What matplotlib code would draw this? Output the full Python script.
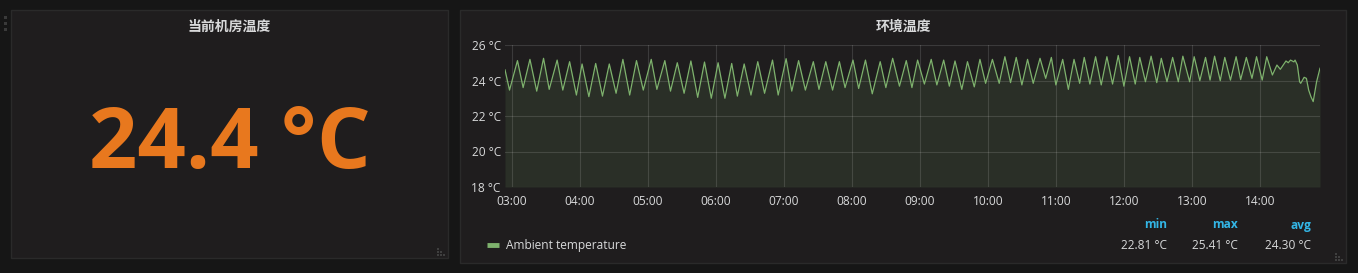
import matplotlib
matplotlib.use("Agg")
import matplotlib.pyplot as plt
import matplotlib.dates as mdates
from matplotlib.patches import Rectangle
from matplotlib.lines import Line2D
import pandas as pd

plt.rcParams['font.family'] = ['Open Sans', 'Noto Sans CJK SC', 'DejaVu Sans']

# stat panel
stat_title = "当前机房温度"
stat_value = 24.4
unit = "°C"

# graph panel
graph_title = "环境温度"
series_name = "Ambient temperature"
times = [
    "02:54", "02:58", "03:05", "03:10", "03:16", "03:22", "03:28", "03:33", "03:40", "03:45",
    "03:51", "03:57", "04:02", "04:08", "04:14", "04:20", "04:26", "04:32", "04:38", "04:44",
    "04:50", "04:56", "05:03", "05:08", "05:15", "05:20", "05:26", "05:32", "05:38", "05:44",
    "05:50", "05:56", "06:02", "06:08", "06:14", "06:19", "06:25", "06:31", "06:37", "06:43",
    "06:50", "06:55", "07:02", "07:07", "07:13", "07:19", "07:26", "07:31", "07:37", "07:43",
    "07:49", "07:54", "08:01", "08:06", "08:12", "08:18", "08:25", "08:30", "08:36", "08:42",
    "08:48", "08:53", "08:58", "09:04", "09:10", "09:15", "09:21", "09:26", "09:31", "09:37",
    "09:42", "09:48", "09:53", "09:58", "10:04", "10:10", "10:15", "10:20", "10:25", "10:30",
    "10:35", "10:40", "10:46", "10:51", "10:56", "11:00", "11:06", "11:11", "11:16", "11:21",
    "11:25", "11:30", "11:35", "11:40", "11:45", "11:50", "11:55", "12:00", "12:05", "12:10",
    "12:14", "12:19", "12:24", "12:29", "12:33", "12:38", "12:43", "12:48", "12:52", "12:58",
    "13:02", "13:07", "13:12", "13:16", "13:20", "13:25", "13:29", "13:34", "13:39", "13:43",
    "13:48", "13:53", "13:57", "14:02", "14:06", "14:11", "14:15", "14:18", "14:23", "14:25",
    "14:27", "14:30", "14:31", "14:33", "14:35", "14:36", "14:39", "14:41", "14:43", "14:45",
    "14:47", "14:50", "14:53",
]
temps = [
    24.60, 23.46, 25.12, 23.60, 25.19, 23.40, 25.25, 23.50, 25.15, 23.46,
    25.06, 23.18, 24.93, 23.09, 24.96, 23.12, 24.93, 23.28, 25.19, 23.18,
    25.12, 23.46, 25.19, 23.50, 25.12, 23.40, 25.00, 23.28, 25.10, 23.05,
    25.04, 23.00, 25.00, 23.00, 24.96, 23.12, 24.93, 23.18, 25.06, 23.28,
    25.15, 23.18, 25.23, 23.40, 25.12, 23.46, 25.06, 23.50, 25.06, 23.46,
    25.06, 23.60, 25.15, 23.55, 25.15, 23.25, 25.06, 23.60, 25.25, 23.68,
    25.12, 23.60, 25.15, 23.80, 25.19, 23.75, 25.15, 23.68, 25.10, 23.50,
    25.06, 23.64, 25.19, 23.84, 25.19, 23.84, 25.34, 23.88, 25.30, 23.75,
    25.19, 23.84, 25.25, 24.12, 25.30, 23.75, 25.19, 23.50, 25.19, 23.84,
    25.30, 23.80, 25.34, 23.75, 25.34, 23.80, 25.41, 23.68, 25.34, 23.80,
    25.30, 23.93, 25.37, 23.88, 25.25, 23.93, 25.30, 23.93, 25.37, 23.93,
    25.34, 23.99, 25.30, 24.02, 25.37, 23.99, 25.30, 24.02, 25.34, 24.05,
    25.30, 24.12, 25.34, 24.02, 25.34, 24.31, 24.87, 24.63, 25.10, 25.00,
    25.15, 25.05, 25.15, 24.87, 23.93, 23.84, 24.18, 24.12, 23.46, 23.09,
    22.81, 23.93, 24.69,
]
y_ticks = [18, 20, 22, 24, 26]
x_range = ["02:54", "14:53"]
stat_names = ["min", "max", "avg"]
stat_values = [22.81, 25.41, 24.30]

W, H = 1358, 273
PAGE = "#161616"
PANEL = "#1f1d1e"
BORDER = "#2a2a2a"
TEXT = "#d8d9da"
GREEN = "#7eb26d"

fig = plt.figure(figsize=(W / 100, H / 100), dpi=100, facecolor=PAGE)

# background layer in pixel coords
bg = fig.add_axes([0, 0, 1, 1])
bg.set_xlim(0, W)
bg.set_ylim(H, 0)
bg.axis("off")
bg.add_patch(Rectangle((11, 10), 437, 248, facecolor=PANEL, edgecolor=BORDER, lw=1))
bg.add_patch(Rectangle((460, 10), 886, 253, facecolor=PANEL, edgecolor=BORDER, lw=1))

# drag handle and resize grips
for yy in (16, 22, 28):
    bg.add_patch(Rectangle((4, yy), 3, 3, facecolor="#3a3a3a", lw=0))
for cx, cy in ((445, 256), (1343, 261)):
    for i in range(3):
        for j in range(3 - i):
            bg.add_patch(Rectangle((cx - 3 * (i + j) - 2, cy - 3 * i - 2), 2, 2,
                                   facecolor="#3f3f3f", lw=0))

# stat panel
bg.text(229.5, 27, stat_title, ha="center", va="center", color=TEXT,
        fontsize=10, fontweight="bold", family=["Noto Sans CJK SC"])
bg.text(230, 146, f"{stat_value:.1f} {unit}", ha="center", va="center",
        color="#e8781e", fontsize=61, fontweight="bold")

# graph panel
bg.text(903, 27, graph_title, ha="center", va="center", color=TEXT,
        fontsize=10, fontweight="bold", family=["Noto Sans CJK SC"])

t = pd.to_datetime(["2024-01-01 " + s for s in times])
ax = fig.add_axes([505 / W, 1 - 187 / H, (1320 - 505) / W, (187 - 45) / H])
ax.set_facecolor("none")
ax.plot(t, temps, color=GREEN, lw=0.9)
ax.fill_between(t, temps, y_ticks[0], color=GREEN, alpha=0.12, lw=0)
ax.set_xlim(pd.to_datetime(["2024-01-01 " + s for s in x_range]))
ax.set_ylim(y_ticks[0], y_ticks[-1])
ax.set_yticks(y_ticks)
ax.set_yticklabels([f"{v} {unit}" for v in y_ticks])
ax.xaxis.set_major_locator(mdates.HourLocator())
ax.xaxis.set_major_formatter(mdates.DateFormatter("%H:%M"))
ax.grid(True, color="#ffffff", alpha=0.13, lw=0.8)
for s in ax.spines.values():
    s.set_visible(False)
ax.tick_params(length=0, colors=TEXT, labelsize=8.6)
ax.tick_params(axis="x", pad=6)
ax.tick_params(axis="y", pad=3)

ax.legend(handles=[Line2D([], [], color=GREEN, lw=3.5, solid_capstyle="butt")],
          labels=[series_name],
          loc="center left", bbox_to_anchor=(476 / W, 1 - 246 / H),
          bbox_transform=fig.transFigure, frameon=False, handlelength=1.0,
          handletextpad=0.65, fontsize=8.6, labelcolor=TEXT)

for name, val, xr in zip(stat_names, stat_values, (1167, 1238, 1311)):
    bg.text(xr, 225, name, ha="right", va="center", color="#33b5e5",
            fontsize=8.6, fontweight="bold")
    bg.text(xr, 245.5, f"{val:.2f} {unit}", ha="right", va="center",
            color=TEXT, fontsize=8.6)

fig.savefig("out.png", dpi=100, facecolor=PAGE)
